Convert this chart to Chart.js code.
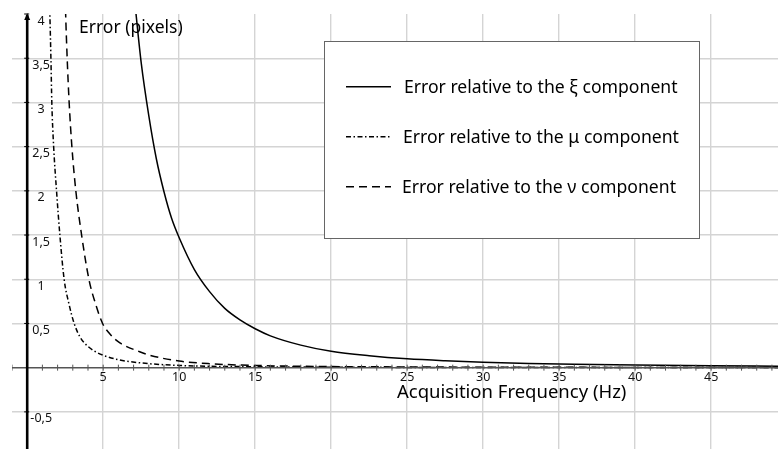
<!DOCTYPE html>
<html lang="en">
<head>
    <meta charset="UTF-8">
    <title>Error vs Acquisition Frequency</title>
    <style>
        html, body { margin: 0; padding: 0; background: #fff; }
        #wrap { width: 778px; height: 449px; position: relative; }
    </style>
</head>
<body>
    <div id="wrap">
        <canvas id="myChart"></canvas>
    </div>

    <script src="https://cdn.jsdelivr.net/npm/chart.js"></script>

    <script>
        // Error curves (pixels) against acquisition frequency (Hz)
        const xiFreq = [7.1, 7.5, 8, 8.5, 9, 9.5, 10, 11, 12, 13, 14, 15, 16, 18, 20, 22.5, 25, 27.5, 30, 33, 36, 40, 45, 49.5];
        const xiErr  = [4.1, 3.45, 2.85, 2.36, 1.99, 1.69, 1.47, 1.11, 0.86, 0.67, 0.54, 0.44, 0.36, 0.255, 0.185, 0.135, 0.1, 0.078, 0.062, 0.048, 0.038, 0.029, 0.021, 0.016];

        const muFreq = [1.45, 1.49, 1.56, 1.62, 1.74, 1.93, 2.15, 2.43, 2.75, 3.09, 3.5, 4, 4.5, 5, 6, 7.4, 10, 15, 20, 30, 49.5];
        const muErr  = [4.2, 4.0, 3.5, 3.0, 2.5, 2.0, 1.5, 1.0, 0.72, 0.5, 0.34, 0.24, 0.18, 0.14, 0.09, 0.055, 0.025, 0.01, 0.005, 0.002, 0.001];

        const nuFreq = [2.5, 2.53, 2.63, 2.76, 2.94, 3.2, 3.58, 4.06, 4.5, 4.96, 5.5, 6.1, 7.4, 8.07, 10, 12, 15, 20, 25, 30, 49.5];
        const nuErr  = [4.2, 4.0, 3.5, 3.0, 2.5, 2.0, 1.5, 1.0, 0.72, 0.5, 0.37, 0.28, 0.18, 0.14, 0.075, 0.045, 0.025, 0.012, 0.008, 0.005, 0.002];

        const seriesNames = [
            'Error relative to the \u03be component',
            'Error relative to the \u03bc component',
            'Error relative to the \u03bd component'
        ];

        // tick positions and their labels
        const xTicks = [5, 10, 15, 20, 25, 30, 35, 40, 45];
        const xTickLabels = ['5', '10', '15', '20', '25', '30', '35', '40', '45'];
        const yTicks = [-0.5, 0.5, 1, 1.5, 2, 2.5, 3, 3.5, 4];
        const yTickLabels = ['-0,5', '0,5', '1', '1,5', '2', '2,5', '3', '3,5', '4'];

        const xTitle = 'Acquisition Frequency (Hz)';
        const yTitle = 'Error (pixels)';

        const FONT = '"Noto Sans", "Open Sans", sans-serif';
        const dashMu = [5, 2.5, 1.5, 2.5];
        const dashNu = [8, 5];

        function toPoints(xs, ys) {
            return xs.map((x, i) => ({ x: x, y: ys[i] }));
        }

        function lineSet(label, xs, ys, dash) {
            return {
                label: label,
                data: toPoints(xs, ys),
                showLine: true,
                borderColor: '#000',
                borderWidth: 1.5,
                borderDash: dash,
                pointRadius: 0,
                cubicInterpolationMode: 'monotone',
                fill: false
            };
        }

        // axes through the origin, tick labels, titles and the boxed legend
        const overlay = {
            id: 'overlay',
            afterDatasetsDraw(chart) {
                const c = chart.ctx;
                const area = chart.chartArea;
                const xs = chart.scales.x;
                const ys = chart.scales.y;
                const x0 = xs.getPixelForValue(0);
                const y0 = ys.getPixelForValue(0);

                c.save();
                c.beginPath();
                c.rect(area.left, area.top - 6, area.right - area.left, area.bottom - area.top + 6);
                c.clip();

                // horizontal axis with unit ticks
                c.strokeStyle = '#555';
                c.lineWidth = 1.5;
                c.beginPath();
                c.moveTo(area.left, y0);
                c.lineTo(area.right, y0);
                c.stroke();
                c.lineWidth = 1;
                for (let v = -1; v <= 49; v++) {
                    const px = xs.getPixelForValue(v);
                    c.beginPath();
                    c.moveTo(px, y0 - 3);
                    c.lineTo(px, y0 + 3);
                    c.stroke();
                }

                // vertical axis, heavy, with small arrow head
                c.strokeStyle = '#000';
                c.lineWidth = 2.6;
                c.beginPath();
                c.moveTo(x0, area.top + 1);
                c.lineTo(x0, area.bottom);
                c.stroke();
                c.fillStyle = '#000';
                c.beginPath();
                c.moveTo(x0, area.top - 1);
                c.lineTo(x0 - 3, area.top + 6);
                c.lineTo(x0 + 3, area.top + 6);
                c.closePath();
                c.fill();
                c.lineWidth = 1;
                yTicks.forEach(v => {
                    const py = ys.getPixelForValue(v);
                    c.beginPath();
                    c.moveTo(x0 - 3, py);
                    c.lineTo(x0 + 2, py);
                    c.stroke();
                });

                // tick labels
                c.fillStyle = '#111';
                c.font = '12.5px ' + FONT;
                c.textAlign = 'center';
                c.textBaseline = 'middle';
                xTicks.forEach((v, i) => {
                    c.fillText(xTickLabels[i], xs.getPixelForValue(v), y0 + 10);
                });
                c.fillText('0', xs.getPixelForValue(-1.25), y0 + 10);
                yTicks.forEach((v, i) => {
                    c.fillText(yTickLabels[i], x0 + 14, ys.getPixelForValue(v) + 7);
                });

                // axis titles
                c.fillStyle = '#000';
                c.textAlign = 'left';
                c.font = '17.5px ' + FONT;
                c.fillText(yTitle, 79, 28);
                c.font = '18.5px ' + FONT;
                c.fillText(xTitle, 397, 393);
                c.restore();

                // legend box
                c.save();
                c.fillStyle = '#fff';
                c.fillRect(324, 41, 375, 197);
                c.strokeStyle = '#666';
                c.lineWidth = 1;
                c.strokeRect(324.5, 41.5, 375, 197);
                const rows = [86.7, 136.7, 186.7];
                const dashes = [[], dashMu, dashNu];
                c.font = '17.6px ' + FONT;
                c.textAlign = 'left';
                c.textBaseline = 'middle';
                rows.forEach((ry, i) => {
                    c.strokeStyle = '#000';
                    c.lineWidth = 1.4;
                    c.setLineDash(dashes[i]);
                    c.beginPath();
                    c.moveTo(346, ry);
                    c.lineTo(391, ry);
                    c.stroke();
                    c.setLineDash([]);
                    c.fillStyle = '#000';
                    c.fillText(seriesNames[i], 404 - i, ry + 1);
                });
                c.restore();
            }
        };

        const gridColor = '#d4d4d4';

        new Chart(document.getElementById('myChart'), {
            type: 'scatter',
            data: {
                datasets: [
                    lineSet(seriesNames[0], xiFreq, xiErr, []),
                    lineSet(seriesNames[1], muFreq, muErr, dashMu),
                    lineSet(seriesNames[2], nuFreq, nuErr, dashNu)
                ]
            },
            options: {
                responsive: true,
                maintainAspectRatio: false,
                animation: false,
                layout: { padding: { left: 12, top: 14, right: 0, bottom: 0 } },
                plugins: {
                    legend: { display: false },
                    tooltip: { enabled: false }
                },
                scales: {
                    x: {
                        type: 'linear',
                        min: -1,
                        max: 49.4,
                        afterBuildTicks: scale => {
                            scale.ticks = xTicks.map(v => ({ value: v }));
                        },
                        ticks: { display: false },
                        border: { display: false },
                        grid: { color: gridColor, lineWidth: 1.4, drawTicks: false }
                    },
                    y: {
                        type: 'linear',
                        min: -0.92,
                        max: 4.0,
                        afterBuildTicks: scale => {
                            scale.ticks = yTicks.filter(v => v < 4).map(v => ({ value: v }));
                        },
                        ticks: { display: false },
                        border: { display: false },
                        grid: { color: gridColor, lineWidth: 1.4, drawTicks: false }
                    }
                }
            },
            plugins: [overlay]
        });
    </script>
</body>
</html>
